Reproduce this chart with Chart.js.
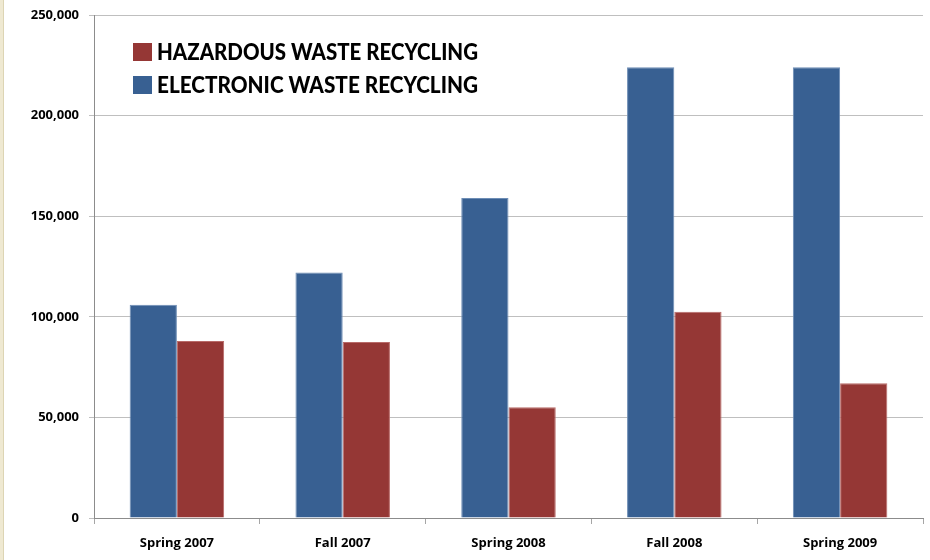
<!DOCTYPE html>
<html lang="en">
<head>
    <meta charset="UTF-8">
    <title>Waste Recycling</title>
    <style>
        body {
            margin: 0;
            background: #ffffff;
        }

        /* beige strip on the left edge */
        .strip {
            position: absolute;
            left: 0;
            top: 0;
            width: 3px;
            height: 560px;
            background: #efe9d2;
            border-right: 1px solid #ddd5b4;
        }

        .wrap {
            position: absolute;
            left: 0;
            top: 0;
            width: 930px;
            height: 560px;
        }
    </style>
    <script src="https://cdn.jsdelivr.net/npm/chart.js"></script>
</head>
<body>
    <div class="strip"></div>
    <div class="wrap"><canvas id="wasteChart"></canvas></div>

    <script>
        const semesters = ['Spring 2007', 'Fall 2007', 'Spring 2008', 'Fall 2008', 'Spring 2009'];
        const electronic = [106000, 122000, 159000, 224000, 224000];
        const hazardous = [88000, 87500, 55000, 102500, 67000];
        const yTicks = [0, 50000, 100000, 150000, 200000, 250000];

        // legend drawn inside the plot, hazardous listed first
        const insideLegend = {
            id: 'insideLegend',
            afterDraw(chart) {
                const c = chart.ctx;
                const items = [chart.data.datasets[1], chart.data.datasets[0]];
                c.save();
                c.font = '900 23px Lato';
                c.textBaseline = 'middle';
                items.forEach((ds, i) => {
                    const y = 52 + i * 33;
                    c.fillStyle = ds.backgroundColor;
                    c.fillRect(133, y - 9, 19, 18);
                    c.fillStyle = '#000';
                    c.fillText(ds.label, 157, y + 1, 321);
                });
                c.restore();
            }
        };

        const tickFont = { family: '"Open Sans"', size: 13, weight: 'bold' };

        new Chart(document.getElementById('wasteChart'), {
            type: 'bar',
            data: {
                labels: semesters,
                datasets: [{
                    label: 'ELECTRONIC WASTE RECYCLING',
                    data: electronic,
                    backgroundColor: '#386092',
                    borderColor: '#6d8db5',
                    borderWidth: { top: 1, left: 1, right: 1, bottom: 0 },
                    categoryPercentage: 0.57,
                    barPercentage: 1.0
                }, {
                    label: 'HAZARDOUS WASTE RECYCLING',
                    data: hazardous,
                    backgroundColor: '#953735',
                    borderColor: '#b86a68',
                    borderWidth: { top: 1, left: 1, right: 1, bottom: 0 },
                    categoryPercentage: 0.57,
                    barPercentage: 1.0
                }]
            },
            options: {
                responsive: true,
                maintainAspectRatio: false,
                animation: false,
                layout: { padding: { top: 15, right: 7, left: 4, bottom: 0 } },
                plugins: {
                    legend: { display: false },
                    tooltip: { enabled: false }
                },
                scales: {
                    x: {
                        afterFit(axis) {
                            axis.height = 42;
                        },
                        grid: {
                            drawOnChartArea: false,
                            drawTicks: true,
                            tickLength: 6,
                            color: '#a6a6a6'
                        },
                        border: { color: '#8c8c8c' },
                        ticks: { color: '#000', font: tickFont, padding: 11 }
                    },
                    y: {
                        min: 0,
                        max: 250000,
                        afterBuildTicks(axis) {
                            axis.ticks = yTicks.map(v => ({ value: v }));
                        },
                        afterFit(axis) {
                            axis.width = 90;
                            axis.paddingTop = 0;
                            axis.paddingBottom = 0;
                        },
                        grid: { color: '#bfbfbf', tickLength: 5 },
                        border: { color: '#8c8c8c' },
                        ticks: {
                            color: '#000',
                            font: tickFont,
                            padding: 10,
                            callback: v => v.toLocaleString('en-US')
                        }
                    }
                }
            },
            plugins: [insideLegend]
        });
    </script>
</body>
</html>
